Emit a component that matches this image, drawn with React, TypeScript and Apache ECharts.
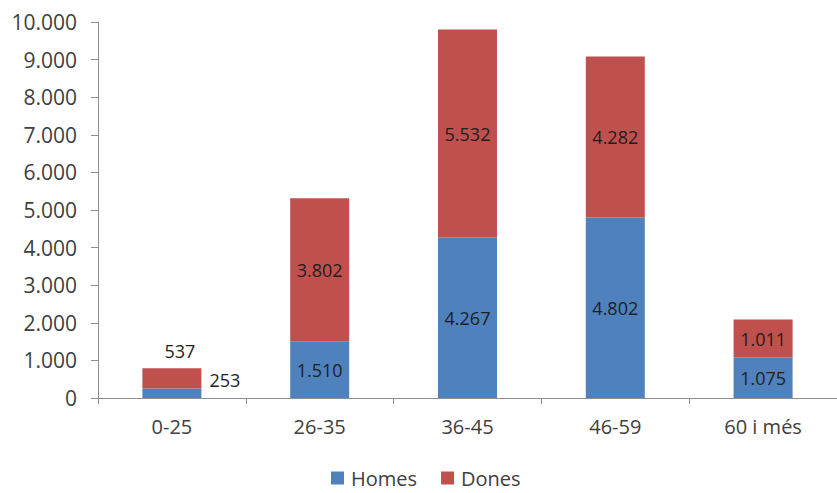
import React, { useEffect, useRef } from "react";
import * as echarts from "echarts";

const categories = ["0-25", "26-35", "36-45", "46-59", "60 i més"];
const homes = [253, 1510, 4267, 4802, 1075];
const dones = [537, 3802, 5532, 4282, 1011];
const yTicks = { min: 0, max: 10000, interval: 1000 };

const FONT = "Open Sans";
const fmt = (n: number) => String(n).replace(/\B(?=(\d{3})+(?!\d))/g, ".");

export default function App() {
  const ref = useRef<HTMLDivElement>(null);
  useEffect(() => {
    if (!ref.current) return;
    const chart = echarts.init(ref.current, null, { renderer: "svg" });
    const labelStyle = {
      show: true,
      position: "inside",
      color: "#1e1e1e",
      fontFamily: FONT,
      fontSize: 18,
      formatter: (p: any) => fmt(p.value),
    };
    chart.setOption({
      animation: false,
      backgroundColor: "#ffffff",
      textStyle: { fontFamily: FONT },
      grid: { left: 98, top: 22, width: 745, height: 376, containLabel: false },
      legend: {
        left: 331,
        top: 468,
        padding: 0,
        itemWidth: 13,
        itemHeight: 13,
        itemGap: 24,
        icon: "rect",
        textStyle: {
          fontFamily: FONT,
          fontSize: 20,
          lineHeight: 20,
          color: "#404040",
          padding: [0, 0, 0, 2],
        },
        data: ["Homes", "Dones"],
      },
      xAxis: {
        type: "category",
        data: categories,
        axisLine: { lineStyle: { color: "#8c8c8c", width: 1 } },
        axisTick: { show: true, length: 6, lineStyle: { color: "#8c8c8c" } },
        axisLabel: { color: "#404040", fontFamily: FONT, fontSize: 20, margin: 18 },
      },
      yAxis: {
        type: "value",
        min: yTicks.min,
        max: yTicks.max,
        interval: yTicks.interval,
        splitLine: { show: false },
        axisLine: { show: true, lineStyle: { color: "#8c8c8c", width: 1 } },
        axisTick: { show: true, length: 7, lineStyle: { color: "#8c8c8c" } },
        axisLabel: {
          color: "#404040",
          fontFamily: FONT,
          fontSize: 21,
          margin: 21,
          formatter: (v: number) => fmt(v),
        },
      },
      series: [
        {
          name: "Homes",
          type: "bar",
          stack: "total",
          barWidth: 59,
          itemStyle: { color: "#4f81bd" },
          label: labelStyle,
          data: homes.map((v, i) =>
            i === 0
              ? { value: v, label: { position: "right", distance: 8, offset: [0, -13] } }
              : v
          ),
        },
        {
          name: "Dones",
          type: "bar",
          stack: "total",
          barWidth: 59,
          itemStyle: { color: "#c0504d" },
          label: labelStyle,
          data: dones.map((v, i) =>
            i === 0
              ? { value: v, label: { position: "top", distance: 5, offset: [8, -3] } }
              : v
          ),
        },
      ],
    });
    return () => chart.dispose();
  }, []);
  return (
    <div
      ref={ref}
      style={{ position: "fixed", left: 0, top: 0, width: 837, height: 493, background: "#fff" }}
    />
  );
}
